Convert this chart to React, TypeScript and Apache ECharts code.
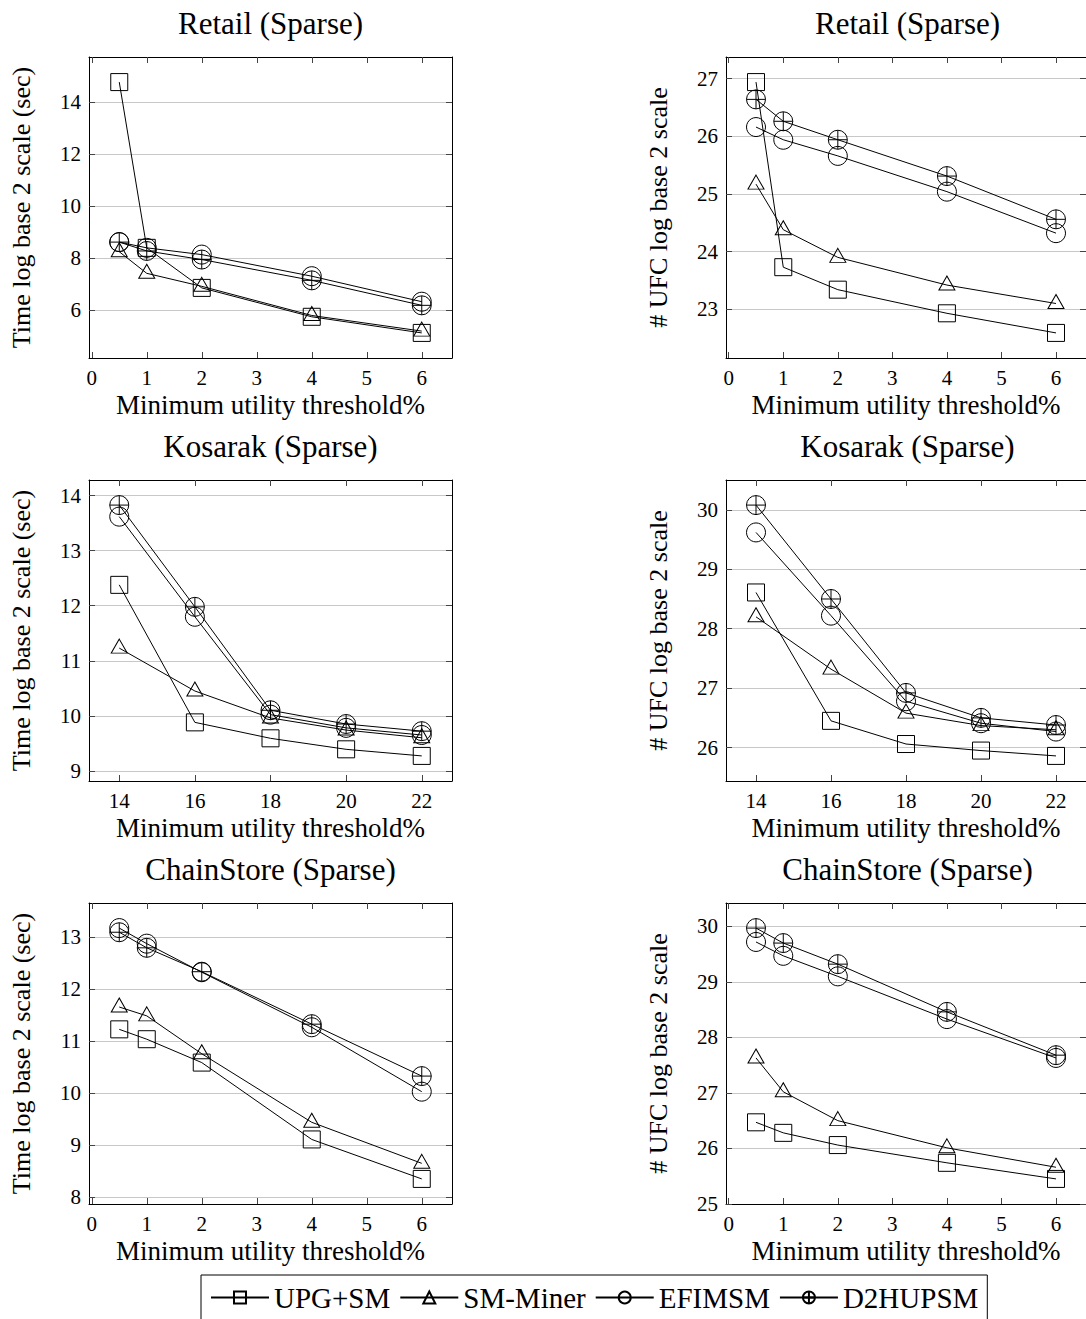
import React, { useEffect, useRef } from "react";
import * as echarts from "echarts";

// ---------- data ----------
const seriesNames = ["UPG+SM", "SM-Miner", "EFIMSM", "D2HUPSM"];

const pctX = [0.5, 1, 2, 4, 6];
const kosarakX = [14, 16, 18, 20, 22];

const pctTicks = [0, 1, 2, 3, 4, 5, 6];
const kosarakTicks = [14, 16, 18, 20, 22];

const retailTimeTicks = [6, 8, 10, 12, 14];
const retailUfcTicks = [23, 24, 25, 26, 27];
const kosarakTimeTicks = [9, 10, 11, 12, 13, 14];
const kosarakUfcTicks = [26, 27, 28, 29, 30];
const chainTimeTicks = [8, 9, 10, 11, 12, 13];
const chainUfcTicks = [25, 26, 27, 28, 29, 30];

// Retail – time
const retailTimeUPG = [14.77, 8.4, 6.86, 5.75, 5.13];
const retailTimeSMM = [8.25, 7.42, 6.92, 5.8, 5.2];
const retailTimeEFIM = [8.62, 8.4, 8.14, 7.31, 6.33];
const retailTimeD2H = [8.62, 8.28, 7.95, 7.15, 6.19];
// Retail – UFC
const retailUfcUPG = [26.94, 23.73, 23.34, 22.93, 22.59];
const retailUfcSMM = [25.17, 24.38, 23.9, 23.42, 23.1];
const retailUfcEFIM = [26.16, 25.94, 25.66, 25.04, 24.32];
const retailUfcD2H = [26.64, 26.26, 25.94, 25.31, 24.56];
// Kosarak – time
const kosarakTimeUPG = [12.38, 9.88, 9.59, 9.39, 9.27];
const kosarakTimeSMM = [11.23, 10.45, 9.96, 9.74, 9.6];
const kosarakTimeEFIM = [13.62, 11.8, 10.02, 9.78, 9.65];
const kosarakTimeD2H = [13.83, 11.98, 10.1, 9.85, 9.72];
// Kosarak – UFC
const kosarakUfcUPG = [28.61, 26.45, 26.06, 25.95, 25.86];
const kosarakUfcSMM = [28.2, 27.32, 26.58, 26.37, 26.3];
const kosarakUfcEFIM = [29.62, 28.22, 26.78, 26.41, 26.27];
const kosarakUfcD2H = [30.08, 28.5, 26.92, 26.5, 26.38];
// ChainStore – time
const chainTimeUPG = [11.23, 11.04, 10.59, 9.11, 8.35];
const chainTimeSMM = [11.66, 11.49, 10.76, 9.44, 8.65];
const chainTimeEFIM = [13.18, 12.88, 12.33, 11.27, 10.03];
const chainTimeD2H = [13.1, 12.8, 12.34, 11.33, 10.33];
// ChainStore – UFC
const chainUfcUPG = [26.47, 26.28, 26.06, 25.74, 25.45];
const chainUfcSMM = [27.63, 27.02, 26.5, 26.01, 25.66];
const chainUfcEFIM = [29.72, 29.47, 29.1, 28.33, 27.63];
const chainUfcD2H = [29.97, 29.7, 29.32, 28.46, 27.68];

const titles = ["Retail (Sparse)", "Retail (Sparse)", "Kosarak (Sparse)", "Kosarak (Sparse)", "ChainStore (Sparse)", "ChainStore (Sparse)"];
const xLabel = "Minimum utility threshold%";
const timeLabel = "Time log base 2 scale (sec)";
const ufcLabel = "# UFC log base 2 scale";

// ---------- styling / layout ----------
const FONT = "'Liberation Serif', 'Times New Roman', serif";
const CIRCLE_PLUS = "path://M0,-10A10,10,0,1,1,0,10A10,10,0,1,1,0,-10ZM-10,0L10,0M0,-10L0,10";
const symbols = ["rect", "triangle", "circle", CIRCLE_PLUS];
const symbolSizes: any[] = [17, [16, 14], 19, 19];
const symbolOffsets: any[] = [[0, 0], [0, -2], [0, 0], [0, 0]];

const PLOT_W = 363;
const PLOT_H = 301;
const lefts = [89, 726];
const tops = [57, 480, 903];

const panels = [
  { x: pctX, ys: [retailTimeUPG, retailTimeSMM, retailTimeEFIM, retailTimeD2H], xt: pctTicks, yt: retailTimeTicks, yName: timeLabel },
  { x: pctX, ys: [retailUfcUPG, retailUfcSMM, retailUfcEFIM, retailUfcD2H], xt: pctTicks, yt: retailUfcTicks, yName: ufcLabel },
  { x: kosarakX, ys: [kosarakTimeUPG, kosarakTimeSMM, kosarakTimeEFIM, kosarakTimeD2H], xt: kosarakTicks, yt: kosarakTimeTicks, yName: timeLabel },
  { x: kosarakX, ys: [kosarakUfcUPG, kosarakUfcSMM, kosarakUfcEFIM, kosarakUfcD2H], xt: kosarakTicks, yt: kosarakUfcTicks, yName: ufcLabel },
  { x: pctX, ys: [chainTimeUPG, chainTimeSMM, chainTimeEFIM, chainTimeD2H], xt: pctTicks, yt: chainTimeTicks, yName: timeLabel },
  { x: pctX, ys: [chainUfcUPG, chainUfcSMM, chainUfcEFIM, chainUfcD2H], xt: pctTicks, yt: chainUfcTicks, yName: ufcLabel },
];

function enlarged(vals: number[]) {
  const mn = Math.min(...vals);
  const mx = Math.max(...vals);
  const r = mx - mn;
  return [mn - 0.1 * r, mx + 0.1 * r];
}

function buildOption() {
  const grid: any[] = [];
  const xAxis: any[] = [];
  const yAxis: any[] = [];
  const series: any[] = [];
  const graphic: any[] = [];

  panels.forEach((p, i) => {
    const left = lefts[i % 2];
    const top = tops[Math.floor(i / 2)];
    grid.push({ left, top, width: PLOT_W, height: PLOT_H, containLabel: false });
    const [xmin, xmax] = enlarged(p.x);
    const [ymin, ymax] = enlarged(p.ys.flat());
    const tickStyle = { show: true, inside: true, length: 6, lineStyle: { color: "#444", width: 1 } };
    const lineStyle = { show: true, onZero: false, lineStyle: { color: "#000", width: 1 } };

    xAxis.push({
      type: "value", gridIndex: i, position: "bottom", min: xmin, max: xmax,
      axisLine: lineStyle,
      axisTick: { ...tickStyle, customValues: p.xt },
      axisLabel: { show: true, customValues: p.xt, margin: 9, fontSize: 21, color: "#000", fontFamily: FONT },
      splitLine: { show: false },
      name: xLabel, nameLocation: "middle", nameGap: 33,
      nameTextStyle: { fontSize: 27, fontFamily: FONT, color: "#000" },
    });
    xAxis.push({
      type: "value", gridIndex: i, position: "top", min: xmin, max: xmax,
      axisLine: lineStyle,
      axisTick: { ...tickStyle, customValues: p.xt },
      axisLabel: { show: false, customValues: p.xt },
      splitLine: { show: false },
    });
    yAxis.push({
      type: "value", gridIndex: i, position: "left", min: ymin, max: ymax,
      axisLine: lineStyle,
      axisTick: { ...tickStyle, customValues: p.yt },
      axisLabel: { show: true, customValues: p.yt, margin: 8, fontSize: 21, color: "#000", fontFamily: FONT },
      splitLine: { show: true, lineStyle: { color: "#c8c8c8", width: 1 } },
      name: p.yName, nameLocation: "middle", nameGap: 55,
      nameTextStyle: { fontSize: 26, fontFamily: FONT, color: "#000" },
    });
    yAxis.push({
      type: "value", gridIndex: i, position: "right", min: ymin, max: ymax,
      axisLine: lineStyle,
      axisTick: { ...tickStyle, customValues: p.yt },
      axisLabel: { show: false, customValues: p.yt },
      splitLine: { show: false },
    });

    p.ys.forEach((vals, k) => {
      series.push({
        type: "line",
        name: seriesNames[k],
        xAxisIndex: 2 * i,
        yAxisIndex: 2 * i,
        data: p.x.map((xv, j) => [xv, vals[j]]),
        symbol: symbols[k],
        symbolSize: symbolSizes[k],
        symbolOffset: symbolOffsets[k],
        symbolKeepAspect: true,
        showSymbol: true,
        clip: false,
        lineStyle: { color: "#000", width: 1 },
        itemStyle: { color: "rgba(0,0,0,0)", borderColor: "#000", borderWidth: 1 },
        emphasis: { disabled: true },
        z: 3 + k,
      });
    });

    graphic.push({
      type: "text",
      x: left + PLOT_W / 2,
      y: top - 34,
      style: {
        text: titles[i],
        fontSize: 31,
        fontFamily: FONT,
        fill: "#000",
        textAlign: "center",
        align: "center",
        textVerticalAlign: "middle",
        verticalAlign: "middle",
      },
    });
  });

  return {
    animation: false,
    backgroundColor: "#fff",
    grid,
    xAxis,
    yAxis,
    series,
    graphic,
    legend: {
      data: seriesNames,
      left: 201,
      top: 1275,
      orient: "horizontal",
      itemWidth: 58,
      itemHeight: 15,
      itemGap: 9,
      padding: [8, 9, 20, 9],
      borderColor: "#000",
      borderWidth: 1,
      borderRadius: 0,
      selectedMode: false,
      textStyle: { fontSize: 29, fontFamily: FONT, color: "#000" },
    },
  };
}

export default function App() {
  const ref = useRef<HTMLDivElement>(null);
  useEffect(() => {
    if (!ref.current) return;
    const chart = echarts.init(ref.current, undefined, { renderer: "svg" });
    chart.setOption(buildOption() as any);
    return () => chart.dispose();
  }, []);
  return (
    <div
      ref={ref}
      style={{ position: "absolute", left: 0, top: 0, width: 1086, height: 1319, background: "#fff" }}
    />
  );
}
